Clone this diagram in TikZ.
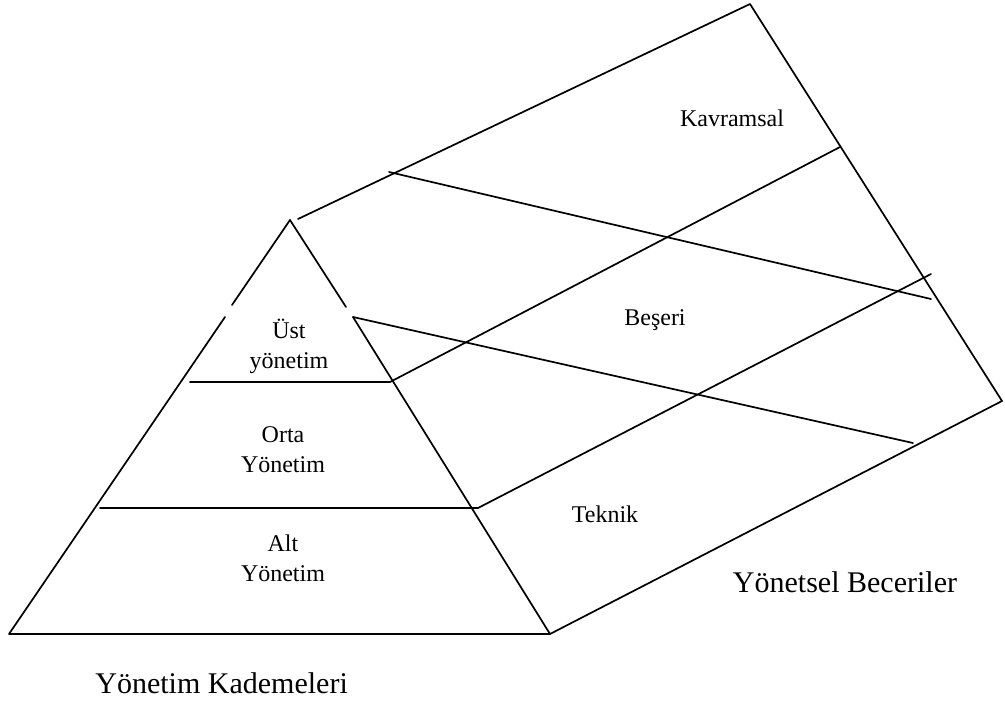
\documentclass[tikz,border=0pt]{standalone}
\usepackage{fontspec}
\setmainfont{Liberation Serif}
\begin{document}
\begin{tikzpicture}[x=1pt,y=-1pt,
  edge/.style={line width=1.7pt,line cap=round,line join=round},
  small/.style={font=\fontsize{24}{29.5}\selectfont,inner sep=0pt,align=center},
  big/.style={font=\fontsize{30}{36}\selectfont,inner sep=0pt}]
\useasboundingbox (0,0) rectangle (1005,702);

% pyramid corners and side breaks
\coordinate (apex) at (290,220);
\coordinate (lu) at (232,305);
\coordinate (ll) at (225,317);
\coordinate (bl) at (9,634);
\coordinate (ru) at (346,307);
\coordinate (rl) at (353,317);
\coordinate (br) at (550,634);

% level separators
\coordinate (u1) at (190,382);
\coordinate (u2) at (390,382);
\coordinate (o1) at (100,508);
\coordinate (o2) at (478,508);

% prism (skills) outline
\coordinate (tp) at (298,219);
\coordinate (tb) at (750,4);
\coordinate (rb) at (1002,401);
\coordinate (k1) at (840,147);
\coordinate (t2) at (931,274);
\coordinate (d1a) at (389,172);
\coordinate (d1b) at (931,299);
\coordinate (d2b) at (913,443);

% pyramid
\draw[edge] (apex) -- (lu);
\draw[edge] (ll) -- (bl) -- (br) -- (rl);
\draw[edge] (apex) -- (ru);
\draw[edge] (u1) -- (u2) -- (k1);
\draw[edge] (o1) -- (o2) -- (t2);

% prism
\draw[edge] (br) -- (rb) -- (tb) -- (tp);
\draw[edge] (d1a) -- (d1b);
\draw[edge] (rl) -- (d2b);

% labels
\node[small] (kav) at (732,126) [anchor=base] {Kavramsal};
\node[small] (bes) at (655,325) [anchor=base] {Beşeri};
\node[small] (tek) at (605,522) [anchor=base] {Teknik};
\node[small] (ust) at (289,346.5) {Üst\\yönetim};
\node[small] (orta) at (283,449.5) {Orta\\Yönetim};
\node[small] (alt) at (283,558.5) {Alt\\Yönetim};
\node[big] (beceri) at (845,592) [anchor=base] {Yönetsel Beceriler};
\node[big] (kademe) at (348,693) [anchor=base east] {Yönetim Kademeleri};
\end{tikzpicture}
\end{document}
